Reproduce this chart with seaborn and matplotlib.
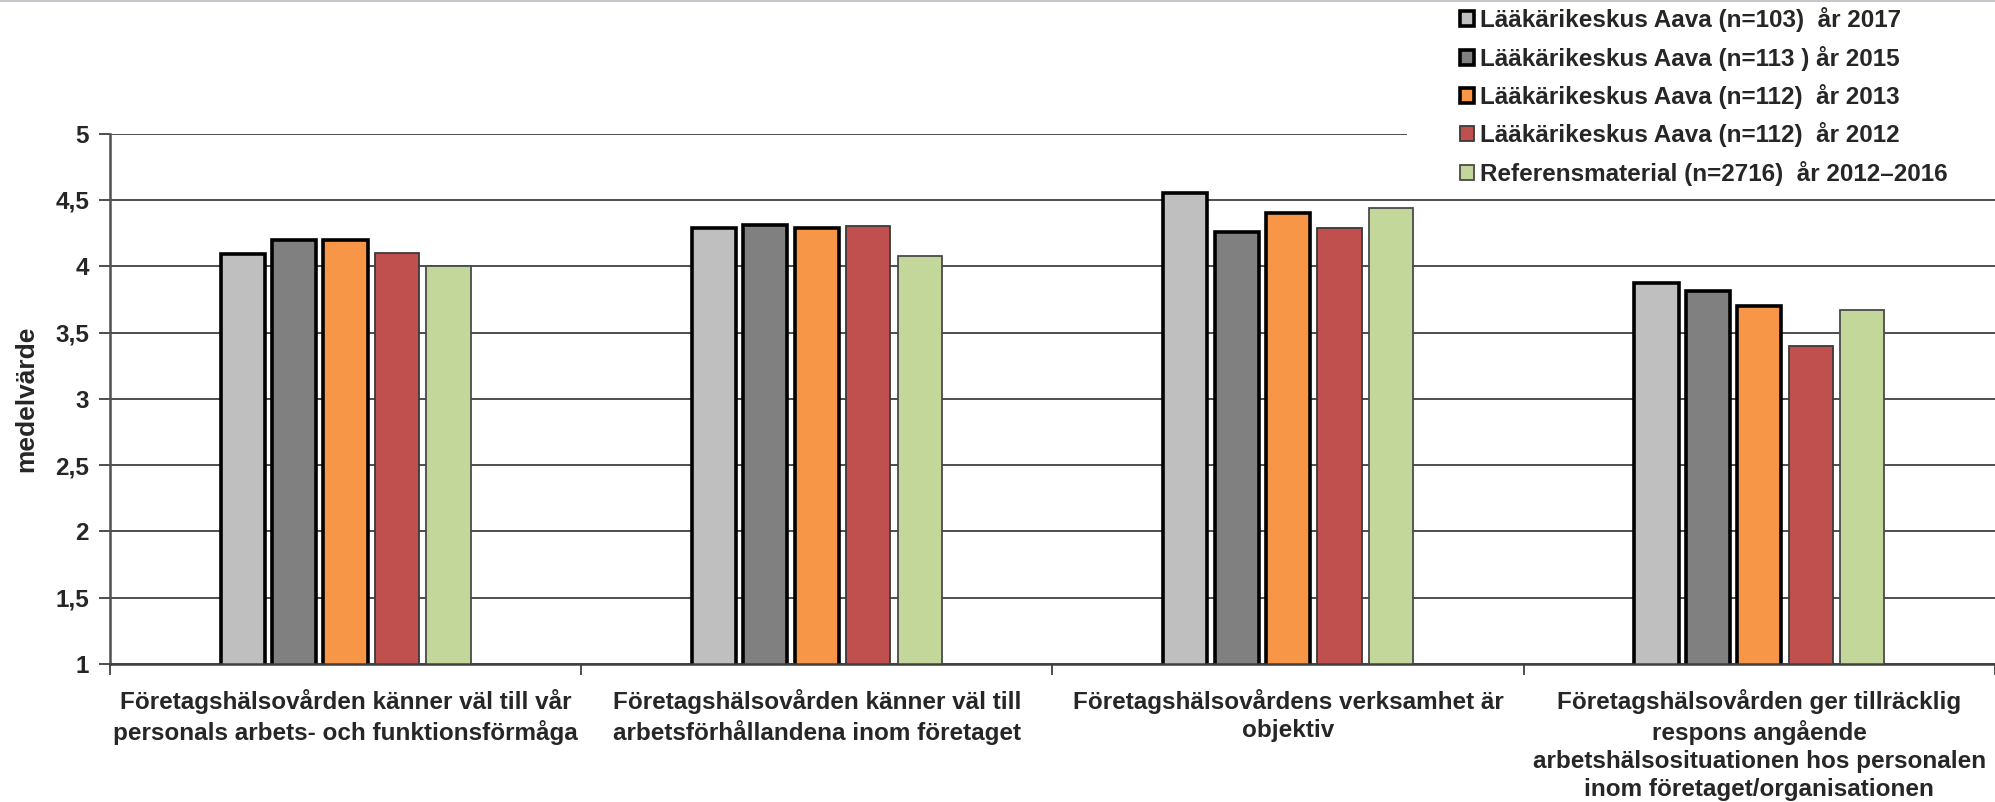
import matplotlib
matplotlib.use("Agg")
import matplotlib.pyplot as plt
import seaborn as sns
import pandas as pd
from matplotlib.patches import Rectangle
from matplotlib.lines import Line2D

# data
categories = [
    "Företagshälsovården känner väl till vår\npersonals arbets- och funktionsförmåga",
    "Företagshälsovården känner väl till\narbetsförhållandena inom företaget",
    "Företagshälsovårdens verksamhet är\nobjektiv",
    "Företagshälsovården ger tillräcklig\nrespons angående\narbetshälsosituationen hos personalen\ninom företaget/organisationen",
]
series = [
    "Lääkärikeskus Aava (n=103)  år 2017",
    "Lääkärikeskus Aava (n=113 ) år 2015",
    "Lääkärikeskus Aava (n=112)  år 2013",
    "Lääkärikeskus Aava (n=112)  år 2012",
    "Referensmaterial (n=2716)  år 2012–2016",
]
aava_2017 = [4.09, 4.29, 4.55, 3.87]
aava_2015 = [4.20, 4.31, 4.26, 3.81]
aava_2013 = [4.20, 4.29, 4.40, 3.70]
aava_2012 = [4.10, 4.30, 4.29, 3.40]
referens = [4.00, 4.08, 4.44, 3.67]

ytick_vals = [1, 1.5, 2, 2.5, 3, 3.5, 4, 4.5, 5]
ytick_labels = ["1", "1,5", "2", "2,5", "3", "3,5", "4", "4,5", "5"]

colors = ["#BFBFBF", "#808080", "#F79646", "#C0504D", "#C4D79B"]
edge_colors = ["black", "black", "black", "#3a3a3a", "#4a4a4a"]
edge_widths = [2.6, 2.6, 2.6, 1.3, 1.3]

rows = []
for name, vals in zip(series, [aava_2017, aava_2015, aava_2013, aava_2012, referens]):
    for cat, v in zip(categories, vals):
        rows.append({"kategori": cat, "serie": name, "medelvarde": v})
df = pd.DataFrame(rows)

sns.set_style("white")
plt.rcParams["font.family"] = ["Liberation Sans", "DejaVu Sans"]

fig = plt.figure(figsize=(19.95, 8.02), dpi=100)
ax = fig.add_axes([0.0551, 0.172, 0.9449, 0.6614])

sns.barplot(data=df, x="kategori", y="medelvarde", hue="serie", order=categories,
            hue_order=series, palette=colors, saturation=1, width=0.546, gap=0.14,
            legend=False, ax=ax)

for cont, ec, lw in zip(ax.containers, edge_colors, edge_widths):
    for p in cont:
        p.set_edgecolor(ec)
        p.set_linewidth(lw)

ax.set_xlim(-0.5, 3.5)
ax.set_ylim(1, 5)

# y axis
ax.set_yticks(ytick_vals, ytick_labels, fontsize=17.5, fontweight="bold")
ax.tick_params(axis="y", left=True, length=8, width=1.3, color="#404040", pad=7)
ax.set_ylabel("medelvärde", fontsize=19, fontweight="bold")
ax.yaxis.set_label_coords(-0.038, 0.5)
ax.yaxis.grid(True, color="#404040", lw=1.3)
ax.set_axisbelow(True)

# x axis
ax.set_xlabel("")
ax.set_xticks(range(len(categories)), categories, fontsize=17.5, fontweight="bold",
              linespacing=1.28)
ax.tick_params(axis="x", which="major", length=0, pad=18)
ax.set_xticks([-0.5, 0.5, 1.5, 2.5, 3.5], minor=True)
ax.tick_params(axis="x", which="minor", bottom=True, length=8, width=1.3, color="#404040")

for s in ["top", "right"]:
    ax.spines[s].set_visible(False)
ax.spines["left"].set_color("#505050")
ax.spines["left"].set_linewidth(1.8)
ax.spines["bottom"].set_color("#404040")
ax.spines["bottom"].set_linewidth(1.8)

# white area behind the legend (hides the top gridline there)
fig.add_artist(Rectangle((1407 / 1995, 1 - 192 / 802), 1, 1, transform=fig.transFigure,
                         facecolor="white", edgecolor="none", zorder=2))

fig.legend(handles=ax.containers, labels=series, loc="upper left",
           bbox_to_anchor=(0.7283, 1.0), frameon=False,
           prop={"weight": "bold", "size": 17.5},
           handlelength=0.58, handleheight=0.58, handletextpad=0.25,
           labelspacing=0.55, borderpad=0.3, borderaxespad=0)

# thin line along the top edge of the slide
fig.add_artist(Line2D([0, 1], [0.999, 0.999], transform=fig.transFigure,
                      color="#c4c8cc", lw=1.5, zorder=3))

fig.savefig("out.png", dpi=100)
